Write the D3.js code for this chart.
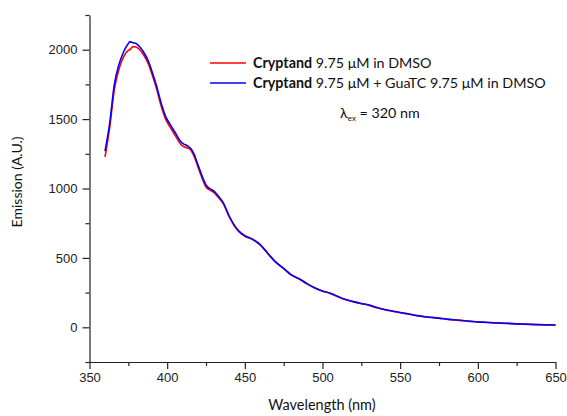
<!DOCTYPE html>
<html lang="en">
<head>
<meta charset="UTF-8">
<title>Emission spectra</title>
<script src="https://d3js.org/d3.v7.min.js"></script>
<style>
  body { margin: 0; background: #fff; }
  .axis path, .axis line { stroke: #222; stroke-width: 1.2px; }
  .title, .legend text { font-family: Lato, "Open Sans", sans-serif; fill: #111; }
</style>
</head>
<body>
<svg width="567" height="416"></svg>
<script>
// wavelengths (nm)
const wavelength = [360, 363, 366, 369, 372, 375, 376, 378, 380, 382, 385, 388, 390, 393, 396, 399,
  402, 405, 408, 410, 413, 415, 417, 420, 423, 425, 428, 430, 433, 436, 440, 443, 446, 450, 455,
  460, 465, 470, 475, 480, 485, 490, 495, 500, 505, 510, 515, 520, 525, 530, 535, 540, 545, 550,
  555, 560, 565, 570, 575, 580, 585, 590, 595, 600, 605, 610, 615, 620, 625, 630, 635, 640, 645, 650];

// Cryptand 9.75 uM in DMSO
const cryptand = [1228, 1440, 1715, 1860, 1950, 1995, 2000, 2022, 2020, 2003, 1960, 1895, 1830, 1725, 1600, 1500,
  1440, 1385, 1330, 1305, 1292, 1280, 1240, 1150, 1060, 1010, 985, 972, 935, 893, 795, 735, 690, 655, 632,
  592, 528, 468, 423, 376, 348, 313, 283, 260, 244, 220, 198, 183, 170, 158, 141, 127, 116, 105,
  96, 85, 77, 71, 65, 58, 53, 48, 43, 38, 35, 32, 29, 27, 24, 22, 20, 18, 17, 16];

// Cryptand + GuaTC 9.75 uM in DMSO
const cryptandGuaTC = [1270, 1470, 1750, 1895, 1985, 2045, 2058, 2050, 2045, 2025, 1980, 1915, 1850, 1745, 1620, 1520,
  1460, 1405, 1350, 1325, 1308, 1290, 1255, 1165, 1075, 1025, 995, 982, 945, 900, 800, 740, 695, 660, 635,
  595, 530, 470, 425, 378, 350, 315, 285, 262, 246, 222, 200, 185, 172, 160, 143, 128, 117, 106,
  97, 86, 78, 72, 66, 59, 54, 49, 44, 39, 36, 33, 30, 28, 25, 23, 21, 19, 18, 17];

const xTicks = [350, 400, 450, 500, 550, 600, 650];
const yTicks = [0, 500, 1000, 1500, 2000];

const series = [
  { name: "cryptand", values: cryptand, color: "#ff0000" },
  { name: "guatc", values: cryptandGuaTC, color: "#0000ff" }
];

const svg = d3.select("svg");
const x = d3.scaleLinear().domain([350, 650]).range([89.5, 555.5]);
const y = d3.scaleLinear().domain([-250, 2250]).range([362, 15]);

// minor ticks first
svg.append("g").attr("class", "axis")
  .attr("transform", "translate(0,362)")
  .call(d3.axisBottom(x).tickValues(d3.range(375, 650, 50)).tickSize(4).tickFormat(""))
  .select(".domain").remove();
svg.append("g").attr("class", "axis")
  .attr("transform", "translate(89.5,0)")
  .call(d3.axisLeft(y).tickValues(d3.range(-250, 2251, 500)).tickSize(4).tickFormat(""))
  .select(".domain").remove();

const xAxis = svg.append("g").attr("class", "axis")
  .attr("transform", "translate(0,362)")
  .call(d3.axisBottom(x).tickValues(xTicks).tickSize(7).tickSizeOuter(0).tickPadding(4).tickFormat(d3.format("d")));
const yAxis = svg.append("g").attr("class", "axis")
  .attr("transform", "translate(89.5,0)")
  .call(d3.axisLeft(y).tickValues(yTicks).tickSize(7).tickSizeOuter(0).tickPadding(5).tickFormat(d3.format("d")));

[xAxis, yAxis].forEach(g => g.selectAll(".tick text")
  .attr("font-family", "Liberation Sans, Arial, sans-serif")
  .attr("font-size", 13)
  .attr("fill", "#222"));

const line = d3.line()
  .x((d, i) => x(wavelength[i]))
  .y(d => y(d))
  .curve(d3.curveMonotoneX);

series.forEach(s => {
  svg.append("path")
    .datum(s.values)
    .attr("fill", "none")
    .attr("stroke", s.color)
    .attr("stroke-width", 1.6)
    .attr("d", line);
});

// axis titles
svg.append("text").attr("class", "title")
  .attr("x", 322).attr("y", 410)
  .attr("text-anchor", "middle").attr("font-size", 14.5)
  .text("Wavelength (nm)");
svg.append("text").attr("class", "title")
  .attr("transform", "translate(22,182) rotate(-90)")
  .attr("text-anchor", "middle").attr("font-size", 14)
  .text("Emission (A.U.)");

// legend
const legend = svg.append("g").attr("class", "legend");
const labels = [
  { bold: "Cryptand", rest: " 9.75 \u03BCM in DMSO" },
  { bold: "Cryptand", rest: " 9.75 \u03BCM + GuaTC 9.75 \u03BCM in DMSO" }
];
series.forEach((s, i) => {
  const ly = 63 + i * 20;
  legend.append("line")
    .attr("x1", 210).attr("x2", 246).attr("y1", ly).attr("y2", ly)
    .attr("stroke", s.color).attr("stroke-width", 1.6);
  const t = legend.append("text")
    .attr("x", 253).attr("y", ly + 5).attr("font-size", 14.3);
  t.append("tspan").attr("font-weight", "bold").text(labels[i].bold);
  t.append("tspan").text(labels[i].rest);
});
const lam = legend.append("text").attr("x", 340).attr("y", 118).attr("font-size", 14.3);
lam.append("tspan").text("\u03BB");
lam.append("tspan").attr("font-size", 8).attr("dy", 3).text("ex");
lam.append("tspan").attr("dy", -3).text(" = 320 nm");
</script>
</body>
</html>
